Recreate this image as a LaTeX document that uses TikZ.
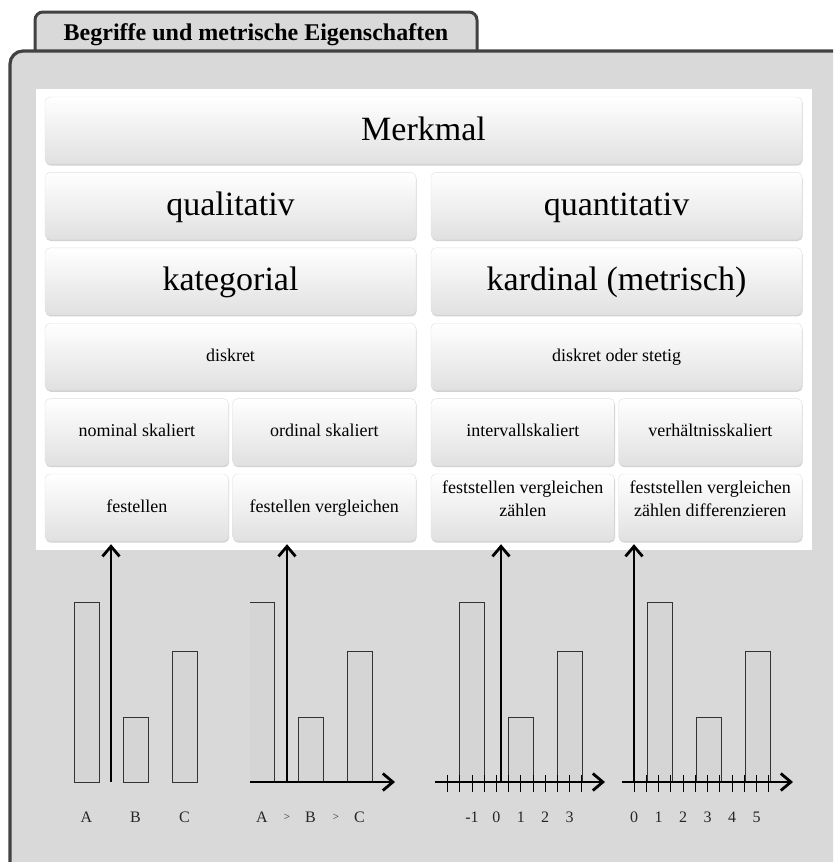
\documentclass[tikz,border=0pt]{standalone}
\usepackage{fontspec}
\setmainfont{Liberation Serif}
\usetikzlibrary{positioning,shadows,arrows.meta}
\definecolor{grund}{RGB}{217,217,217}
\definecolor{rand}{RGB}{66,66,66}
\definecolor{balkengrau}{RGB}{213,213,213}
\tikzset{
  kasten/.style={rounded corners=5pt, draw=black!12, top color=white, bottom color=black!12,
    align=center, inner sep=2pt, minimum height=67pt,
    drop shadow={shadow xshift=0.6pt, shadow yshift=-1.6pt, opacity=0.35}},
  gross/.style={kasten, font=\fontsize{34}{38}\selectfont, text height=25.5pt, text depth=6.5pt},
  klein/.style={kasten, font=\fontsize{18}{23}\selectfont, text height=12.6pt, text depth=3.6pt},
  zweizeilig/.style={text height=30pt, text depth=13pt},
  achse/.style={line width=2.8pt, -{Straight Barb[length=10pt,width=17pt]}},
  balken/.style={draw=black!80, line width=0.8pt, fill=balkengrau},
  strich/.style={line width=0.8pt},
  marke/.style={font=\fontsize{16}{18}\selectfont, text=black!85, inner sep=0pt}
}
\begin{document}
\begin{tikzpicture}[x=1pt, y=-1pt]
      \clip (0,0) rectangle (833,862);
      % Frame
      \draw[rand, line width=3pt, fill=grund, rounded corners=8pt] (35,52) -- (35,12) -- (477,12) -- (477,52);
      \node[font=\fontsize{24}{28}\selectfont\bfseries] (titel) at (256,35) {Begriffe und metrische Eigenschaften};
      \draw[rand, line width=3.2pt, fill=grund, rounded corners=13pt] (10,51) rectangle (880,900);
      \fill[white] (36,89) rectangle (812,550);
      % Define nodes
      \node[gross, minimum width=757pt] (m) at (423.5,130.5) {Merkmal};
      \node[gross, minimum width=371pt, below=8pt of m.south west, anchor=north west] (ql) {qualitativ};
      \node[gross, minimum width=371pt, below=8pt of m.south east, anchor=north east] (qn) {quantitativ};
      \node[gross, minimum width=371pt, below=8pt of ql] (kat) {kategorial};
      \node[gross, minimum width=371pt, below=8pt of qn] (kar) {kardinal (metrisch)};
      \node[klein, minimum width=371pt, below=8pt of kat] (d1) {diskret};
      \node[klein, minimum width=371pt, below=8pt of kar] (d2) {diskret oder stetig};
      \node[klein, minimum width=183.5pt, below=8pt of d1.south west, anchor=north west] (nom) {nominal skaliert};
      \node[klein, minimum width=183.5pt, below=8pt of d1.south east, anchor=north east] (ord) {ordinal skaliert};
      \node[klein, minimum width=183.5pt, below=8pt of d2.south west, anchor=north west] (int) {intervallskaliert};
      \node[klein, minimum width=183.5pt, below=8pt of d2.south east, anchor=north east] (ver) {verhältnisskaliert};
      \node[klein, minimum width=183.5pt, below=8pt of nom] (f1) {festellen};
      \node[klein, minimum width=183.5pt, below=8pt of ord] (f2) {festellen vergleichen};
      \node[klein, zweizeilig, minimum width=183.5pt, below=8pt of int] (f3) {feststellen vergleichen\\zählen};
      \node[klein, zweizeilig, minimum width=183.5pt, below=8pt of ver] (f4) {feststellen vergleichen\\zählen differenzieren};
      % Bars
      \foreach \x/\h in {74/602,123/717,172/651, 298/717,347/651, 459/602,508/717,557/651, 647/602,696/717,745/651}
        \draw[balken] (\x,\h) rectangle (\x+25,782);
      \fill[balkengrau] (250,602) rectangle (274,782);
      \draw[balken] (250,602) -| (274,782);
      % Axes
      \coordinate (o1) at (111,782);
      \coordinate (o2) at (287,782);
      \coordinate (o3) at (501,782);
      \coordinate (o4) at (634,782);
      \coordinate (s2) at (250,782);
      \coordinate (e2) at (395,782);
      \coordinate (s3) at (435,782);
      \coordinate (e3) at (605,782);
      \coordinate (s4) at (622,782);
      \coordinate (e4) at (793,782);
      \foreach \i in {0,...,11} {
        \draw[strich] (447.6+12.2*\i,775) -- ++(0,17);
        \draw[strich] (634+12.25*\i,775) -- ++(0,17);
      }
      \draw[achse] (s2) -- (e2);
      \draw[achse] (s3) -- (e3);
      \draw[achse] (s4) -- (e4);
      \draw[achse, shorten >=3pt] (o1) -- (o1 |- f1.south);
      \draw[achse, shorten >=3pt] (o2) -- (o2 |- f2.south);
      \draw[achse, shorten >=3pt] (o3) -- (o3 |- f3.south);
      \draw[achse, shorten >=3pt] (o4) -- (o4 |- f4.south);
      % Labels
      \node[marke] (la) at (86.5,817) {A};
      \node[marke] (lb) at (135.5,817) {B};
      \node[marke] (lc) at (184.5,817) {C};
      \node[marke] (la2) at (262,817) {A};
      \node[marke, font=\fontsize{11}{12}\selectfont] (g1) at (287,817) {>};
      \node[marke] (lb2) at (310.5,817) {B};
      \node[marke, font=\fontsize{11}{12}\selectfont] (g2) at (336,817) {>};
      \node[marke] (lc2) at (359.5,817) {C};
      \foreach \t [count=\i] in {-1,0,1,2,3}
        \node[marke] (z3-\i) at (447.6+24.4*\i,817) {\t};
      \foreach \t [count=\i from 0] in {0,...,5}
        \node[marke] (z4-\i) at (634+24.5*\i,817) {\t};
\end{tikzpicture}
\end{document}
